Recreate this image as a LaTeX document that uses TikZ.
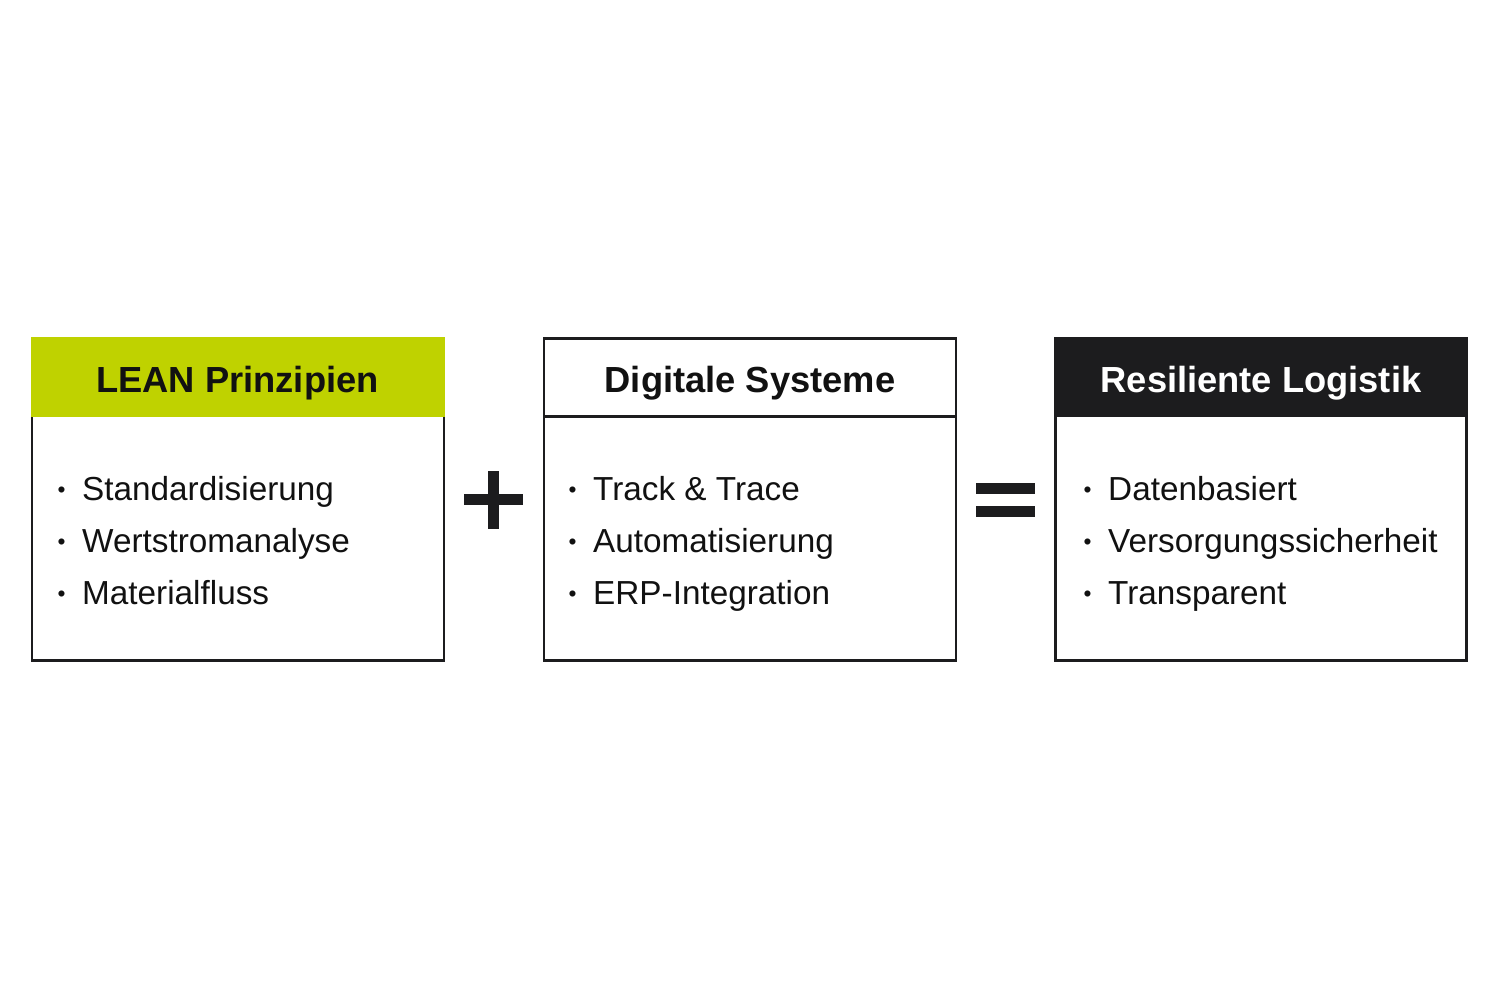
\documentclass[tikz,border=0pt]{standalone}
\usepackage{fontspec}
\setmainfont{Liberation Sans}
\definecolor{leangreen}{HTML}{BFD200}
\definecolor{darkbox}{HTML}{1C1C1E}
\definecolor{txt}{HTML}{111111}
\tikzset{
  boxline/.style={draw=darkbox, line width=2.6pt},
  headtext/.style={font=\fontsize{36.3}{40}\selectfont\bfseries, text=txt, anchor=base, inner sep=0pt},
  itemtext/.style={font=\fontsize{33.3}{36}\selectfont, text=txt, anchor=base west, inner sep=0pt},
  opbar/.style={fill=darkbox, draw=none}
}
\newcommand{\bitem}[1]{\makebox[24.5pt][l]{\raisebox{2.2pt}{\scalebox{0.68}{•}}}#1}
\begin{document}
\begin{tikzpicture}[x=1pt,y=-1pt]
\useasboundingbox (0,0) rectangle (1500,1000);
\fill[white] (0,0) rectangle (1500,1000);
% Box 1
\fill[leangreen] (31,337) rectangle (445,417);
\draw[boxline] (32,417) -- (32,660.5) -- (444,660.5) -- (444,417);
\node[headtext] (h1) at (237.5,392) {LEAN Prinzipien};
\node[itemtext] (a1) at (57.5,500) {\bitem{Standardisierung}};
\node[itemtext] (a2) at (57.5,552) {\bitem{Wertstromanalyse}};
\node[itemtext] (a3) at (57.5,604) {\bitem{Materialfluss}};
% Box 2
\draw[boxline] (544,338.5) rectangle (956,660.5);
\draw[boxline] (544,416.5) -- (956,416.5);
\node[headtext] (h2) at (750,392) {Digitale Systeme};
\node[itemtext] (b1) at (568.5,500) {\bitem{Track \& Trace}};
\node[itemtext] (b2) at (568.5,552) {\bitem{Automatisierung}};
\node[itemtext] (b3) at (568.5,604) {\bitem{ERP-Integration}};
% Box 3
\fill[darkbox] (1054,337) rectangle (1468,417);
\draw[boxline] (1055.3,417) -- (1055.3,660.5) -- (1466.7,660.5) -- (1466.7,417);
\node[headtext, text=white] (h3) at (1261,392) {Resiliente Logistik};
\node[itemtext] (c1) at (1083.5,500) {\bitem{Datenbasiert}};
\node[itemtext] (c2) at (1083.5,552) {\bitem{Versorgungssicherheit}};
\node[itemtext] (c3) at (1083.5,604) {\bitem{Transparent}};
% Plus
\fill[opbar] (488,471) rectangle (499,529);
\fill[opbar] (464,494) rectangle (523,505);
% Equals
\fill[opbar] (976,483) rectangle (1035,494);
\fill[opbar] (976,506) rectangle (1035,516.5);
\end{tikzpicture}
\end{document}
